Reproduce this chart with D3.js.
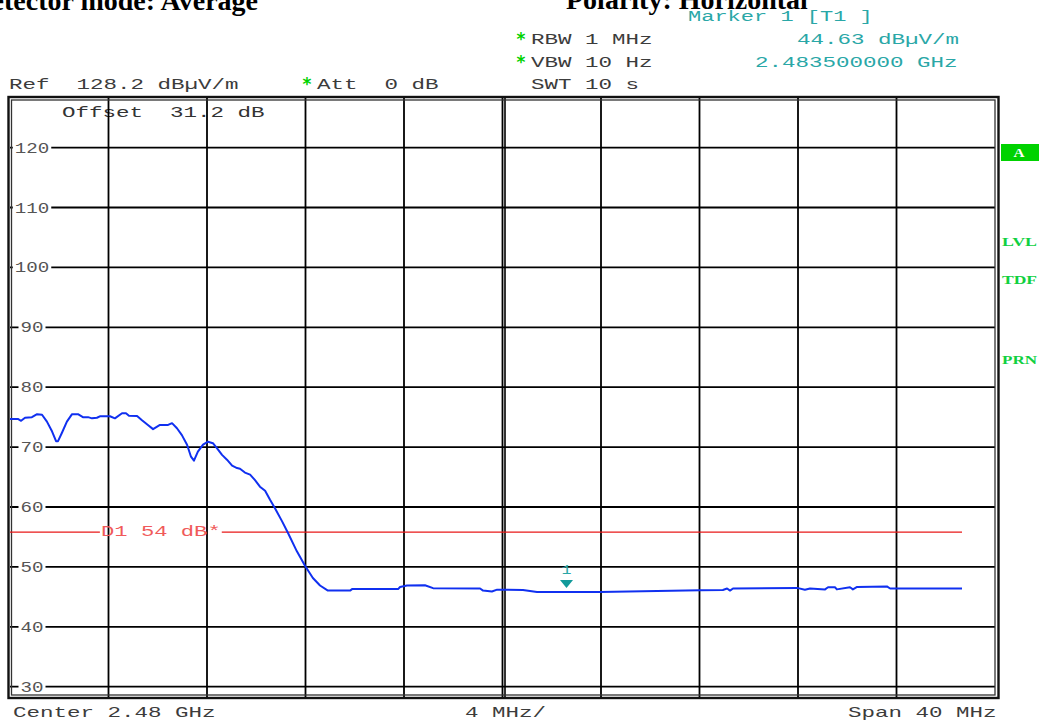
<!DOCTYPE html>
<html>
<head>
<meta charset="utf-8">
<title>Band edge</title>
<style>
	body { margin: 0; background: #fff; }
	svg { display: block; }
</style>
</head>
<body>
<svg width="1039" height="721"></svg>
<script src="https://d3js.org/d3.v7.min.js"></script>
<script>
// trace, frequency in MHz, level in dBuV/m
const traceFreq = [2460.00, 2460.32, 2460.45, 2460.61, 2460.89, 2461.10, 2461.30, 2461.50, 2461.71, 2461.87,
	2461.95, 2462.11, 2462.31, 2462.52, 2462.76, 2462.96, 2463.17, 2463.33, 2463.53, 2463.65,
	2464.06, 2464.26, 2464.55, 2464.71, 2464.83, 2465.16, 2465.36, 2465.60, 2465.81, 2466.09,
	2466.42, 2466.58, 2466.78, 2466.98, 2467.19, 2467.35, 2467.47, 2467.63, 2467.84, 2468.04,
	2468.24, 2468.41, 2468.61, 2468.81, 2469.02, 2469.22, 2469.34, 2469.54, 2469.75, 2469.95,
	2470.15, 2470.36, 2470.56, 2470.76, 2471.05, 2471.29, 2471.65, 2471.98, 2472.30, 2472.59,
	2472.91, 2473.81, 2473.89, 2475.76, 2475.84, 2476.12, 2476.85, 2477.18, 2479.09, 2479.21,
	2479.57, 2479.78, 2480.83, 2481.40, 2483.96, 2488.02, 2488.95, 2489.12, 2489.24, 2489.36,
	2491.96, 2492.28, 2492.49, 2493.10, 2493.22, 2493.50, 2493.58, 2494.11, 2494.23, 2494.40,
	2495.61, 2495.74, 2498.66];
const traceLevel = [74.7, 74.7, 74.4, 74.9, 75.0, 75.5, 75.4, 74.25, 72.6, 71.0,
	71.0, 72.4, 74.25, 75.5, 75.5, 75.0, 75.0, 74.8, 74.9, 75.15,
	75.15, 74.8, 75.65, 75.65, 75.25, 75.2, 74.5, 73.7, 73.0, 73.7,
	73.7, 74.0, 73.15, 72.0, 70.4, 68.4, 67.75, 69.25, 70.4, 70.9,
	70.65, 69.8, 68.7, 67.9, 66.9, 66.5, 66.4, 65.75, 65.4, 64.5,
	63.4, 62.7, 61.2, 59.8, 57.6, 55.65, 52.6, 50.2, 48.15, 46.9,
	46.05, 46.05, 46.3, 46.3, 46.65, 46.9, 46.95, 46.45, 46.4, 46.05,
	45.9, 46.2, 46.15, 45.8, 45.8, 46.1, 46.15, 46.4, 46.05, 46.4,
	46.5, 46.2, 46.4, 46.25, 46.6, 46.6, 46.25, 46.6, 46.25, 46.65,
	46.75, 46.4, 46.4];

const yTicks = [120, 110, 100, 90, 80, 70, 60, 50, 40, 30];
const freqRange = [2460, 2500];   // center 2.48 GHz, span 40 MHz
const levelRange = [28.2, 128.2]; // ref 128.2, 10 dB/div
const divMHz = 4;

const displayLine = 55.8;         // D1 as it sits on the grid
const displayLineEnd = 2498.66;
const displayGap = [2463.65, 2468.6]; // where its label sits
const markerFreq = 2482.6;
const markerLevel = 46.5;

const mono = "'Liberation Mono', 'DejaVu Sans Mono', monospace";
const grey = '#3c3c3c';
const teal = '#2aa7a7';
const green = '#00d200';

var svg = d3.select('svg');

var x = d3.scaleLinear().domain(freqRange).range([10, 995]);
var y = d3.scaleLinear().domain(levelRange).range([697.5, 98.5]);

// wide analyser font: stretch a mono font to a fixed cell width
function label(g, px, py, str, color, size, cell, anchor) {
	return g.append('text')
		.attr('x', px).attr('y', py)
		.attr('font-family', mono)
		.attr('font-size', size)
		.attr('fill', color)
		.attr('text-anchor', anchor || 'start')
		.attr('textLength', str.length * cell)
		.attr('lengthAdjust', 'spacingAndGlyphs')
		.text(str.replace(/ /g, '\u00a0'));
}

// titles, cut at the top like the screenshot
svg.append('text').attr('x', 258).attr('y', 10).attr('text-anchor', 'end')
	.attr('font-family', "'Liberation Serif', 'Times New Roman', serif")
	.attr('font-weight', 'bold').attr('font-size', 28).attr('fill', '#000')
	.text('Detector mode: Average');
svg.append('text').attr('x', 566).attr('y', 9)
	.attr('font-family', "'Liberation Serif', 'Times New Roman', serif")
	.attr('font-weight', 'bold').attr('font-size', 28).attr('fill', '#000')
	.text('Polarity: Horizontal');

// header block
var head = svg.append('g');
label(head, 688, 21, 'Marker 1 [T1 ]', teal, 14, 13.2);
label(head, 797, 44, '44.63 dB\u00b5V/m', teal, 15, 13.5);
label(head, 755, 67, '2.483500000 GHz', teal, 15, 13.5);
label(head, 531, 44, 'RBW 1 MHz', grey, 15, 13.5);
label(head, 531, 67, 'VBW 10 Hz', grey, 15, 13.5);
label(head, 531, 89, 'SWT 10 s', grey, 15, 13.5);
label(head, 9, 89, 'Ref  128.2 dB\u00b5V/m', grey, 15, 13.5);
label(head, 317, 89, 'Att  0 dB', grey, 15, 13.5);
[[521, 45], [521, 68], [307, 90]].forEach(p => {
	head.append('text').attr('x', p[0]).attr('y', p[1])
		.attr('text-anchor', 'middle')
		.attr('font-family', "'DejaVu Sans', sans-serif").attr('font-weight', 'bold')
		.attr('font-size', 17).attr('fill', green).text('*');
});

// footer
label(svg, 13, 717, 'Center 2.48 GHz', grey, 15, 13.5);
label(svg, 465, 717, '4 MHz/', grey, 15, 13.5);
label(svg, 848, 717, 'Span 40 MHz', grey, 15, 13.5);

// side annotations
svg.append('rect').attr('x', 1001).attr('y', 144).attr('width', 38).attr('height', 17).attr('fill', green);
svg.append('text').attr('x', 1019).attr('y', 157).attr('text-anchor', 'middle')
	.attr('font-family', "'Liberation Serif', serif").attr('font-weight', 'bold')
	.attr('font-size', 13).attr('fill', '#fff')
	.attr('textLength', 11).attr('lengthAdjust', 'spacingAndGlyphs').text('A');
[['LVL', 246], ['TDF', 284], ['PRN', 364]].forEach(d => {
	svg.append('text').attr('x', 1002).attr('y', d[1])
		.attr('font-family', "'Liberation Serif', serif").attr('font-weight', 'bold')
		.attr('font-size', 12).attr('fill', '#10d040')
		.attr('textLength', 35).attr('lengthAdjust', 'spacingAndGlyphs').text(d[0]);
});

var plot = svg.append('g');

label(plot, 62, 117, 'Offset  31.2 dB', '#333', 15, 13.5);

// horizontal grid, broken by the level labels
plot.append('g').selectAll('line').data(yTicks).enter().append('line')
	.attr('x1', 10).attr('x2', 995)
	.attr('y1', d => y(d)).attr('y2', d => y(d))
	.attr('stroke', '#000').attr('stroke-width', 1.8);

var yl = plot.append('g');
yTicks.forEach(t => {
	var s = String(t);
	var w = s.length * 11.5;
	yl.append('rect').attr('x', 32 - w / 2 - 2).attr('y', y(t) - 2).attr('width', w + 4).attr('height', 4).attr('fill', '#fff');
	label(yl, 32, y(t) + 5, s, '#555', 14, 11.5, 'middle');
});

// vertical grid, one line per division
var xTicks = d3.range(freqRange[0] + divMHz, freqRange[1], divMHz);
plot.append('g').selectAll('line').data(xTicks).enter().append('line')
	.attr('x1', d => x(d)).attr('x2', d => x(d))
	.attr('y1', 98).attr('y2', 697)
	.attr('stroke', '#000').attr('stroke-width', 1.8);
// centre line is doubled
plot.append('line')
	.attr('x1', x(2480) + 2.5).attr('x2', x(2480) + 2.5)
	.attr('y1', 98).attr('y2', 697)
	.attr('stroke', '#000').attr('stroke-width', 1.6);

// frame
plot.append('rect').attr('x', 8.5).attr('y', 97).attr('width', 990).attr('height', 601)
	.attr('fill', 'none').attr('stroke', '#111').attr('stroke-width', 2.4);
plot.append('rect').attr('x', 11.5).attr('y', 100).attr('width', 983.5).attr('height', 595)
	.attr('fill', 'none').attr('stroke', '#333').attr('stroke-width', 1.3);

// display line D1, gap for its label
var dl = plot.append('g');
dl.append('line').attr('x1', x(freqRange[0])).attr('x2', x(displayGap[0]))
	.attr('y1', y(displayLine)).attr('y2', y(displayLine))
	.attr('stroke', '#e81818').attr('stroke-width', 1.2);
dl.append('line').attr('x1', x(displayGap[1])).attr('x2', x(displayLineEnd))
	.attr('y1', y(displayLine)).attr('y2', y(displayLine))
	.attr('stroke', '#e81818').attr('stroke-width', 1.2);
label(dl, 101, y(displayLine) + 4, 'D1 54 dB*', '#f05a5a', 15, 13.3);

// trace
var pts = traceFreq.map((f, i) => [f, traceLevel[i]]);
var line = d3.line().x(d => x(d[0])).y(d => y(d[1]));
plot.append('path').datum(pts)
	.attr('d', line)
	.attr('fill', 'none')
	.attr('stroke', '#1030f0')
	.attr('stroke-width', 2)
	.attr('stroke-linejoin', 'round');

// marker 1
var mx = x(markerFreq), my = y(markerLevel);
plot.append('path')
	.attr('d', `M${mx - 6.5},${my - 8}L${mx + 6.5},${my - 8}L${mx},${my}Z`)
	.attr('fill', '#129a9a');
label(plot, mx, my - 14, '1', teal, 13, 10, 'middle');
</script>
</body>
</html>
